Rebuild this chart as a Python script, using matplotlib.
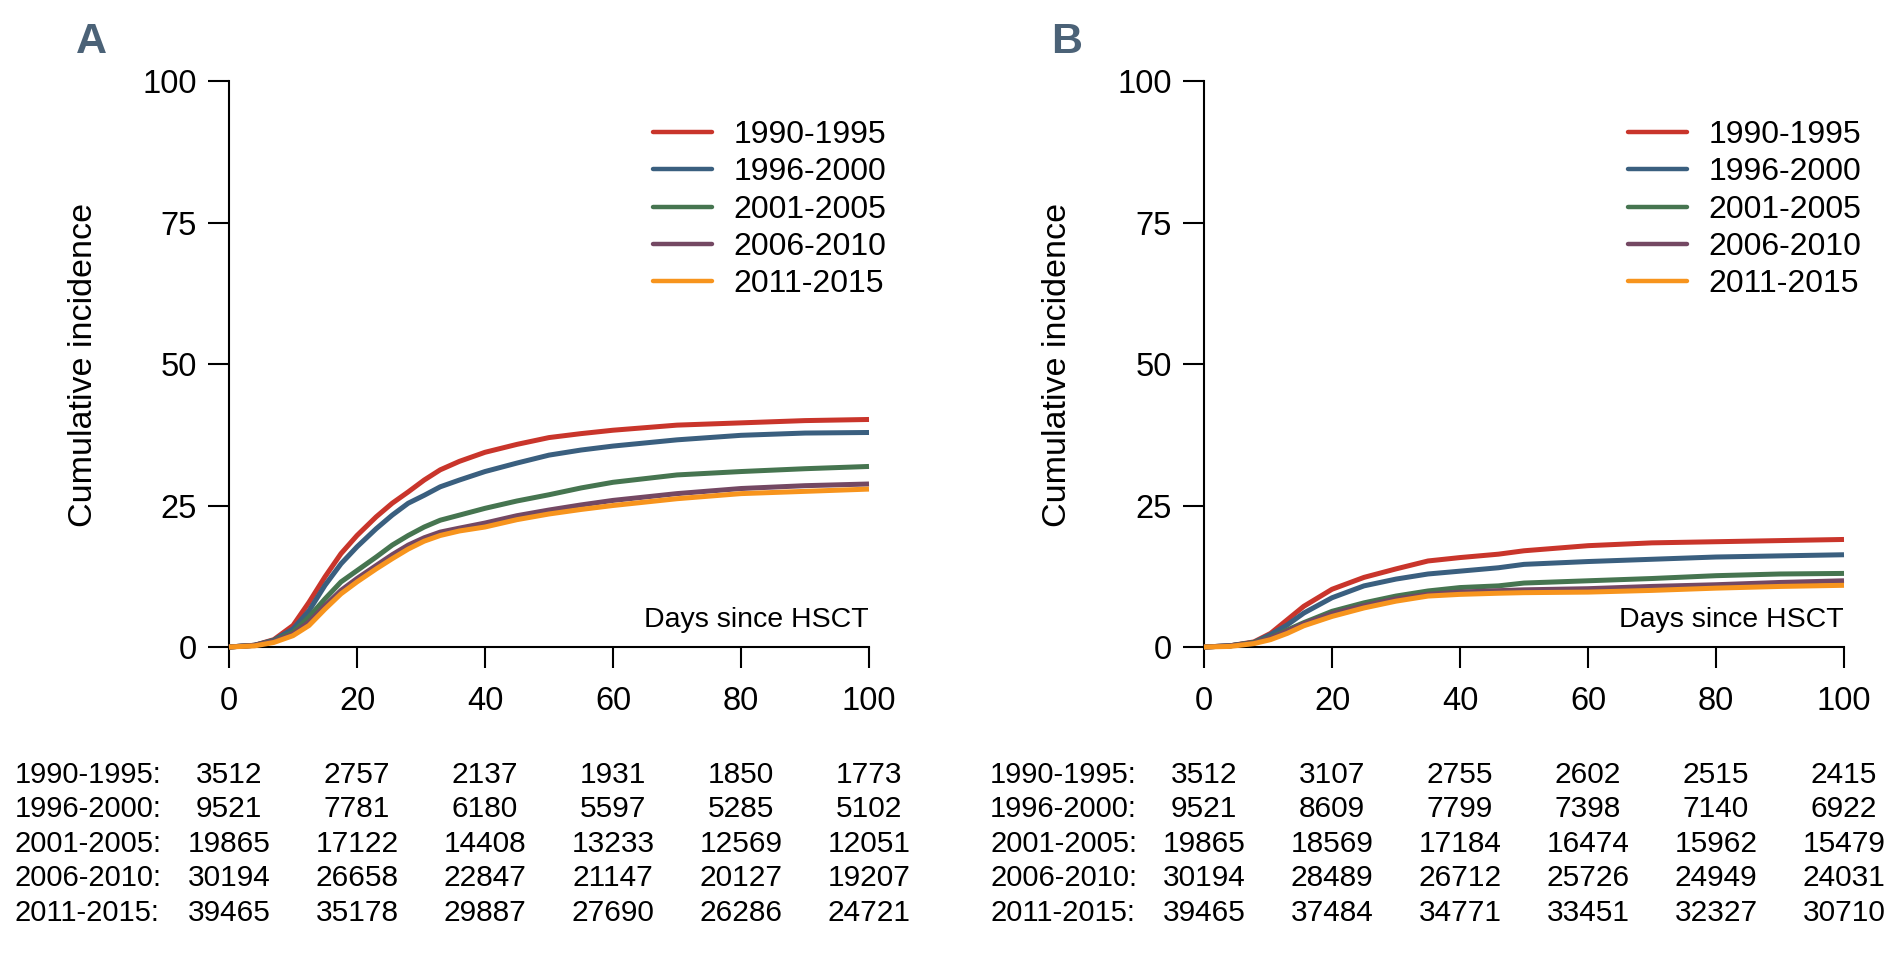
import numpy as np
import matplotlib
matplotlib.use("Agg")
import matplotlib.pyplot as plt
import matplotlib.transforms as mtransforms
from matplotlib import font_manager as fm

names = {f.name for f in fm.fontManager.ttflist}
MAIN = "Liberation Sans" if "Liberation Sans" in names else "DejaVu Sans"
plt.rcParams["font.family"] = [MAIN, "DejaVu Sans"]

# ---------------------------------------------------------------- data
groups = ["1990-1995", "1996-2000", "2001-2005", "2006-2010", "2011-2015"]
colors = ["#c9352b", "#3a5f7f", "#467550", "#744863", "#f7941d"]

days_a = [0, 4, 7, 10, 12.5, 15, 17.5, 20, 23, 25.5, 28, 30.5, 33, 36, 40,
          45, 50, 55, 60, 70, 80, 90, 100]
ci_a = {
    "1990-1995": [0, 0.3, 1.3, 3.8, 7.9, 12.4, 16.5, 19.7, 23.0, 25.4, 27.4, 29.5,
                  31.3, 32.8, 34.4, 35.8, 37.0, 37.7, 38.3, 39.2, 39.6, 40.0, 40.2],
    "1996-2000": [0, 0.3, 1.2, 3.2, 6.4, 10.9, 14.7, 17.7, 20.9, 23.3, 25.4, 26.8,
                  28.3, 29.5, 31.0, 32.5, 33.9, 34.8, 35.5, 36.6, 37.4, 37.8, 37.9],
    "2001-2005": [0, 0.3, 1.1, 2.6, 5.3, 8.5, 11.5, 13.5, 15.9, 18.0, 19.7, 21.2,
                  22.4, 23.3, 24.5, 25.8, 26.9, 28.1, 29.1, 30.4, 31.0, 31.5, 31.9],
    "2006-2010": [0, 0.3, 1.0, 2.3, 4.4, 7.3, 10.0, 12.1, 14.4, 16.3, 18.0, 19.3,
                  20.3, 21.0, 21.9, 23.2, 24.2, 25.1, 25.9, 27.1, 28.0, 28.5, 28.8],
    "2011-2015": [0, 0.2, 0.8, 2.0, 3.8, 6.7, 9.4, 11.5, 13.8, 15.6, 17.3, 18.7,
                  19.7, 20.5, 21.2, 22.5, 23.5, 24.3, 25.0, 26.2, 27.1, 27.5, 27.9],
}

days_b = [0, 4, 7.8, 10.4, 13, 15.6, 20, 25, 30, 35, 40, 46, 50, 60, 70, 80, 90, 100]
ci_b = {
    "1990-1995": [0, 0.2, 0.9, 2.4, 4.8, 7.2, 10.2, 12.3, 13.8, 15.2, 15.8, 16.4,
                  17.0, 17.9, 18.4, 18.6, 18.8, 19.0],
    "1996-2000": [0, 0.2, 0.8, 2.2, 3.9, 6.0, 8.7, 10.8, 12.0, 12.9, 13.4, 14.0,
                  14.6, 15.1, 15.5, 15.9, 16.1, 16.3],
    "2001-2005": [0, 0.2, 0.8, 1.7, 3.0, 4.3, 6.3, 7.8, 9.0, 9.9, 10.5, 10.8,
                  11.3, 11.7, 12.1, 12.6, 12.9, 13.0],
    "2006-2010": [0, 0.2, 0.7, 1.6, 2.8, 4.1, 5.9, 7.3, 8.5, 9.3, 9.7, 9.95,
                  10.1, 10.3, 10.7, 11.0, 11.4, 11.7],
    "2011-2015": [0, 0.1, 0.6, 1.3, 2.4, 3.75, 5.4, 6.9, 8.1, 9.0, 9.3, 9.5,
                  9.6, 9.7, 10.0, 10.4, 10.7, 10.9],
}

risk_days = [0, 20, 40, 60, 80, 100]
risk_a = {
    "1990-1995": [3512, 2757, 2137, 1931, 1850, 1773],
    "1996-2000": [9521, 7781, 6180, 5597, 5285, 5102],
    "2001-2005": [19865, 17122, 14408, 13233, 12569, 12051],
    "2006-2010": [30194, 26658, 22847, 21147, 20127, 19207],
    "2011-2015": [39465, 35178, 29887, 27690, 26286, 24721],
}
risk_b = {
    "1990-1995": [3512, 3107, 2755, 2602, 2515, 2415],
    "1996-2000": [9521, 8609, 7799, 7398, 7140, 6922],
    "2001-2005": [19865, 18569, 17184, 16474, 15962, 15479],
    "2006-2010": [30194, 28489, 26712, 25726, 24949, 24031],
    "2011-2015": [39465, 37484, 34771, 33451, 32327, 30710],
}

# ---------------------------------------------------------------- figure
W, H = 1901, 963
fig = plt.figure(figsize=(W / 100, H / 100), dpi=100)


def fx(px):
    return px / W


def fy(py):
    return 1 - py / H


panels = [
    ("A", 229, 869, days_a, ci_a, risk_a),
    ("B", 1204, 1844, days_b, ci_b, risk_b),
]
y0_px, y100_px = 647, 81

for letter, x0, x1, days, ci, risk in panels:
    ax = fig.add_axes([fx(x0), fy(y0_px), fx(x1) - fx(x0), fy(y100_px) - fy(y0_px)])
    for g, c in zip(groups, colors):
        ax.plot(days, ci[g], color=c, lw=3.6, label=g, clip_on=False,
                solid_capstyle="butt", zorder=3)
    ax.set_xlim(0, 100)
    ax.set_ylim(0, 100)
    ax.set_xticks(risk_days)
    ax.set_yticks([0, 25, 50, 75, 100])
    for sp in ("top", "right"):
        ax.spines[sp].set_visible(False)
    for sp in ("left", "bottom"):
        ax.spines[sp].set_linewidth(1.5)
    ax.tick_params(direction="out", length=15, width=1.5, labelsize=23.5)
    ax.tick_params(axis="y", pad=8)
    ax.tick_params(axis="x", pad=13)

    ax.text(100, 3.5, "Days since HSCT", ha="right", va="baseline", fontsize=20.5)

    leg = ax.legend(loc="upper left", bbox_to_anchor=(fx(x0 + 424), fy(120)),
                    bbox_transform=fig.transFigure, frameon=False, fontsize=23,
                    handlelength=1.85, handletextpad=0.66, labelspacing=0.23,
                    borderpad=0, borderaxespad=0)
    for ln in leg.get_lines():
        ln.set_linewidth(3.2)
        ln.set_solid_capstyle("round")

    # panel letter and y label
    fig.text(fx(x0 - 153), fy(42), letter, fontsize=31, fontweight="bold",
             color="#4b6277", ha="left", va="center")
    fig.text(fx(x0 - 146), fy(365), "Cumulative incidence", rotation=90,
             ha="center", va="center", fontsize=24.5)

    # numbers at risk table
    trans = mtransforms.blended_transform_factory(ax.transData, fig.transFigure)
    for i, g in enumerate(groups):
        ry = 775 + i * 34.4
        fig.text(fx(x0 - 214), fy(ry), g + ":", ha="left", va="center", fontsize=21)
        for d, n in zip(risk_days, risk[g]):
            ax.text(d, fy(ry), str(n), transform=trans, ha="center", va="center",
                    fontsize=21.5)

fig.savefig("out.png", dpi=100)
